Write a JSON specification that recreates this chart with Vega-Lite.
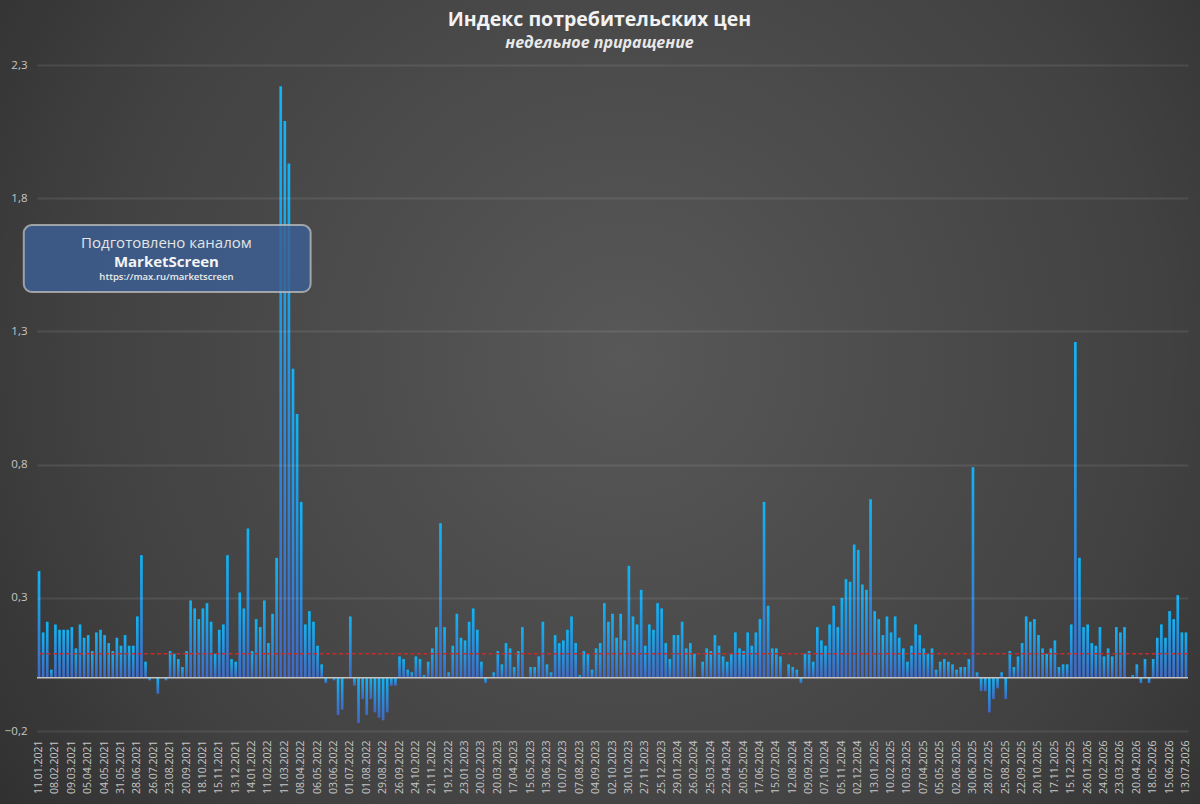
{
  "$schema": "https://vega.github.io/schema/vega-lite/v6.json",
  "width": 1151,
  "height": 666,
  "autosize": {"type": "none"},
  "padding": {"left": 37, "top": 65, "right": 12, "bottom": 73},
  "background": "#2b2b2b",
  "title": {
    "text": "Индекс потребительских цен",
    "subtitle": "недельное приращение",
    "anchor": "middle",
    "frame": "group",
    "dx": -13,
    "offset": -52,
    "color": "#f2f2f2",
    "font": "Open Sans",
    "fontSize": 19.5,
    "fontWeight": "bold",
    "subtitleColor": "#e8e8e8",
    "subtitleFont": "Open Sans",
    "subtitleFontSize": 16,
    "subtitleFontStyle": "italic",
    "subtitleFontWeight": "bold",
    "subtitlePadding": 4
  },
  "config": {
    "view": {"stroke": null},
    "axis": {"labelFont": "Open Sans", "labelColor": "#c6c6c6", "domain": false, "ticks": false}
  },
  "datasets": {
    "cpi": [
      {"d":"11.01.2021","v":0.40},{"d":"18.01.2021","v":0.17},{"d":"25.01.2021","v":0.21},{"d":"01.02.2021","v":0.03},
      {"d":"08.02.2021","v":0.20},{"d":"15.02.2021","v":0.18},{"d":"24.02.2021","v":0.18},{"d":"01.03.2021","v":0.18},
      {"d":"09.03.2021","v":0.19},{"d":"15.03.2021","v":0.11},{"d":"22.03.2021","v":0.20},{"d":"29.03.2021","v":0.15},
      {"d":"05.04.2021","v":0.16},{"d":"12.04.2021","v":0.10},{"d":"19.04.2021","v":0.17},{"d":"26.04.2021","v":0.18},
      {"d":"04.05.2021","v":0.16},{"d":"11.05.2021","v":0.13},{"d":"17.05.2021","v":0.10},{"d":"24.05.2021","v":0.15},
      {"d":"31.05.2021","v":0.12},{"d":"07.06.2021","v":0.16},{"d":"15.06.2021","v":0.12},{"d":"21.06.2021","v":0.12},
      {"d":"28.06.2021","v":0.23},{"d":"05.07.2021","v":0.46},{"d":"12.07.2021","v":0.06},{"d":"19.07.2021","v":-0.01},
      {"d":"26.07.2021","v":0.00},{"d":"02.08.2021","v":-0.06},{"d":"09.08.2021","v":0.00},{"d":"16.08.2021","v":-0.01},
      {"d":"23.08.2021","v":0.10},{"d":"30.08.2021","v":0.09},{"d":"06.09.2021","v":0.07},{"d":"13.09.2021","v":0.04},
      {"d":"20.09.2021","v":0.10},{"d":"27.09.2021","v":0.29},{"d":"04.10.2021","v":0.26},{"d":"11.10.2021","v":0.22},
      {"d":"18.10.2021","v":0.26},{"d":"25.10.2021","v":0.28},{"d":"01.11.2021","v":0.21},{"d":"08.11.2021","v":0.09},
      {"d":"15.11.2021","v":0.18},{"d":"22.11.2021","v":0.20},{"d":"29.11.2021","v":0.46},{"d":"06.12.2021","v":0.07},
      {"d":"13.12.2021","v":0.06},{"d":"20.12.2021","v":0.32},{"d":"27.12.2021","v":0.26},{"d":"10.01.2022","v":0.56},
      {"d":"14.01.2022","v":0.10},{"d":"21.01.2022","v":0.22},{"d":"28.01.2022","v":0.19},{"d":"04.02.2022","v":0.29},
      {"d":"11.02.2022","v":0.13},{"d":"18.02.2022","v":0.24},{"d":"25.02.2022","v":0.45},{"d":"04.03.2022","v":2.22},
      {"d":"11.03.2022","v":2.09},{"d":"18.03.2022","v":1.93},{"d":"25.03.2022","v":1.16},{"d":"01.04.2022","v":0.99},
      {"d":"08.04.2022","v":0.66},{"d":"15.04.2022","v":0.20},{"d":"22.04.2022","v":0.25},{"d":"29.04.2022","v":0.21},
      {"d":"06.05.2022","v":0.12},{"d":"13.05.2022","v":0.05},{"d":"20.05.2022","v":-0.02},{"d":"27.05.2022","v":0.00},
      {"d":"03.06.2022","v":-0.01},{"d":"10.06.2022","v":-0.14},{"d":"17.06.2022","v":-0.12},{"d":"24.06.2022","v":0.00},
      {"d":"01.07.2022","v":0.23},{"d":"08.07.2022","v":-0.03},{"d":"15.07.2022","v":-0.17},{"d":"25.07.2022","v":-0.08},
      {"d":"01.08.2022","v":-0.14},{"d":"08.08.2022","v":-0.08},{"d":"15.08.2022","v":-0.13},{"d":"22.08.2022","v":-0.15},
      {"d":"29.08.2022","v":-0.16},{"d":"05.09.2022","v":-0.13},{"d":"12.09.2022","v":-0.03},{"d":"19.09.2022","v":-0.03},
      {"d":"26.09.2022","v":0.08},{"d":"03.10.2022","v":0.07},{"d":"10.10.2022","v":0.03},{"d":"17.10.2022","v":0.02},
      {"d":"24.10.2022","v":0.08},{"d":"31.10.2022","v":0.07},{"d":"07.11.2022","v":0.01},{"d":"14.11.2022","v":0.06},
      {"d":"21.11.2022","v":0.11},{"d":"28.11.2022","v":0.19},{"d":"05.12.2022","v":0.58},{"d":"12.12.2022","v":0.19},
      {"d":"19.12.2022","v":0.02},{"d":"26.12.2022","v":0.12},{"d":"09.01.2023","v":0.24},{"d":"16.01.2023","v":0.15},
      {"d":"23.01.2023","v":0.14},{"d":"30.01.2023","v":0.21},{"d":"06.02.2023","v":0.26},{"d":"13.02.2023","v":0.18},
      {"d":"20.02.2023","v":0.06},{"d":"27.02.2023","v":-0.02},{"d":"06.03.2023","v":0.00},{"d":"13.03.2023","v":0.02},
      {"d":"20.03.2023","v":0.10},{"d":"27.03.2023","v":0.05},{"d":"03.04.2023","v":0.13},{"d":"10.04.2023","v":0.11},
      {"d":"17.04.2023","v":0.04},{"d":"24.04.2023","v":0.10},{"d":"02.05.2023","v":0.19},{"d":"10.05.2023","v":0.00},
      {"d":"15.05.2023","v":0.04},{"d":"22.05.2023","v":0.04},{"d":"29.05.2023","v":0.08},{"d":"05.06.2023","v":0.21},
      {"d":"13.06.2023","v":0.05},{"d":"19.06.2023","v":0.02},{"d":"26.06.2023","v":0.16},{"d":"03.07.2023","v":0.13},
      {"d":"10.07.2023","v":0.14},{"d":"17.07.2023","v":0.18},{"d":"24.07.2023","v":0.23},{"d":"31.07.2023","v":0.13},
      {"d":"07.08.2023","v":0.01},{"d":"14.08.2023","v":0.10},{"d":"21.08.2023","v":0.09},{"d":"28.08.2023","v":0.03},
      {"d":"04.09.2023","v":0.11},{"d":"11.09.2023","v":0.13},{"d":"18.09.2023","v":0.28},{"d":"25.09.2023","v":0.21},
      {"d":"02.10.2023","v":0.24},{"d":"09.10.2023","v":0.15},{"d":"16.10.2023","v":0.24},{"d":"23.10.2023","v":0.14},
      {"d":"30.10.2023","v":0.42},{"d":"06.11.2023","v":0.23},{"d":"13.11.2023","v":0.20},{"d":"20.11.2023","v":0.33},
      {"d":"27.11.2023","v":0.12},{"d":"04.12.2023","v":0.20},{"d":"11.12.2023","v":0.18},{"d":"18.12.2023","v":0.28},
      {"d":"25.12.2023","v":0.26},{"d":"09.01.2024","v":0.13},{"d":"15.01.2024","v":0.07},{"d":"22.01.2024","v":0.16},
      {"d":"29.01.2024","v":0.16},{"d":"05.02.2024","v":0.21},{"d":"12.02.2024","v":0.11},{"d":"19.02.2024","v":0.13},
      {"d":"26.02.2024","v":0.09},{"d":"04.03.2024","v":0.00},{"d":"11.03.2024","v":0.06},{"d":"18.03.2024","v":0.11},
      {"d":"25.03.2024","v":0.10},{"d":"01.04.2024","v":0.16},{"d":"08.04.2024","v":0.12},{"d":"15.04.2024","v":0.08},
      {"d":"22.04.2024","v":0.06},{"d":"29.04.2024","v":0.09},{"d":"06.05.2024","v":0.17},{"d":"13.05.2024","v":0.11},
      {"d":"20.05.2024","v":0.10},{"d":"27.05.2024","v":0.17},{"d":"03.06.2024","v":0.12},{"d":"10.06.2024","v":0.17},
      {"d":"17.06.2024","v":0.22},{"d":"24.06.2024","v":0.66},{"d":"01.07.2024","v":0.27},{"d":"08.07.2024","v":0.11},
      {"d":"15.07.2024","v":0.11},{"d":"22.07.2024","v":0.08},{"d":"29.07.2024","v":0.00},{"d":"05.08.2024","v":0.05},
      {"d":"12.08.2024","v":0.04},{"d":"19.08.2024","v":0.03},{"d":"26.08.2024","v":-0.02},{"d":"02.09.2024","v":0.09},
      {"d":"09.09.2024","v":0.10},{"d":"16.09.2024","v":0.06},{"d":"23.09.2024","v":0.19},{"d":"30.09.2024","v":0.14},
      {"d":"07.10.2024","v":0.12},{"d":"14.10.2024","v":0.20},{"d":"21.10.2024","v":0.27},{"d":"28.10.2024","v":0.19},
      {"d":"05.11.2024","v":0.30},{"d":"11.11.2024","v":0.37},{"d":"18.11.2024","v":0.36},{"d":"25.11.2024","v":0.50},
      {"d":"02.12.2024","v":0.48},{"d":"09.12.2024","v":0.35},{"d":"16.12.2024","v":0.33},{"d":"23.12.2024","v":0.67},
      {"d":"13.01.2025","v":0.25},{"d":"20.01.2025","v":0.22},{"d":"27.01.2025","v":0.16},{"d":"03.02.2025","v":0.23},
      {"d":"10.02.2025","v":0.17},{"d":"17.02.2025","v":0.23},{"d":"24.02.2025","v":0.15},{"d":"03.03.2025","v":0.11},
      {"d":"10.03.2025","v":0.06},{"d":"17.03.2025","v":0.12},{"d":"24.03.2025","v":0.20},{"d":"31.03.2025","v":0.16},
      {"d":"07.04.2025","v":0.11},{"d":"14.04.2025","v":0.09},{"d":"21.04.2025","v":0.11},{"d":"28.04.2025","v":0.03},
      {"d":"05.05.2025","v":0.06},{"d":"12.05.2025","v":0.07},{"d":"19.05.2025","v":0.06},{"d":"26.05.2025","v":0.05},
      {"d":"02.06.2025","v":0.03},{"d":"09.06.2025","v":0.04},{"d":"16.06.2025","v":0.04},{"d":"23.06.2025","v":0.07},
      {"d":"30.06.2025","v":0.79},{"d":"07.07.2025","v":0.02},{"d":"14.07.2025","v":-0.05},{"d":"21.07.2025","v":-0.05},
      {"d":"28.07.2025","v":-0.13},{"d":"04.08.2025","v":-0.08},{"d":"11.08.2025","v":-0.04},{"d":"18.08.2025","v":0.02},
      {"d":"25.08.2025","v":-0.08},{"d":"01.09.2025","v":0.10},{"d":"08.09.2025","v":0.04},{"d":"15.09.2025","v":0.08},
      {"d":"22.09.2025","v":0.13},{"d":"29.09.2025","v":0.23},{"d":"06.10.2025","v":0.21},{"d":"13.10.2025","v":0.22},
      {"d":"20.10.2025","v":0.16},{"d":"27.10.2025","v":0.11},{"d":"03.11.2025","v":0.09},{"d":"10.11.2025","v":0.11},
      {"d":"17.11.2025","v":0.14},{"d":"24.11.2025","v":0.04},{"d":"01.12.2025","v":0.05},{"d":"08.12.2025","v":0.05},
      {"d":"15.12.2025","v":0.20},{"d":"22.12.2025","v":1.26},{"d":"29.12.2025","v":0.45},{"d":"19.01.2026","v":0.19},
      {"d":"26.01.2026","v":0.20},{"d":"02.02.2026","v":0.13},{"d":"09.02.2026","v":0.12},{"d":"16.02.2026","v":0.19},
      {"d":"24.02.2026","v":0.08},{"d":"02.03.2026","v":0.11},{"d":"09.03.2026","v":0.08},{"d":"16.03.2026","v":0.19},
      {"d":"23.03.2026","v":0.17},{"d":"30.03.2026","v":0.19},{"d":"06.04.2026","v":0.00},{"d":"13.04.2026","v":0.01},
      {"d":"20.04.2026","v":0.05},{"d":"27.04.2026","v":-0.02},{"d":"04.05.2026","v":0.07},{"d":"12.05.2026","v":-0.02},
      {"d":"18.05.2026","v":0.07},{"d":"25.05.2026","v":0.15},{"d":"01.06.2026","v":0.20},{"d":"08.06.2026","v":0.15},
      {"d":"15.06.2026","v":0.25},{"d":"22.06.2026","v":0.22},{"d":"29.06.2026","v":0.31},{"d":"06.07.2026","v":0.17},
      {"d":"13.07.2026","v":0.17}
    ]
  },
  "layer": [
    {
      "data": {"values": [{}]},
      "mark": {
        "type": "rect",
        "color": {
          "gradient": "radial",
          "x1": 0.52, "y1": 0.46, "r1": 0,
          "x2": 0.52, "y2": 0.46, "r2": 0.75,
          "stops": [
            {"offset": 0, "color": "#585858"},
            {"offset": 0.6, "color": "#414141"},
            {"offset": 1, "color": "#272727"}
          ]
        }
      },
      "encoding": {
        "x": {"datum": -10, "type": "quantitative", "scale": {"domain": [-0.5, 280.5], "nice": false, "zero": false}, "axis": null},
        "x2": {"datum": 284},
        "y": {"datum": -0.5, "type": "quantitative", "scale": {"domain": [-0.2, 2.3], "nice": false}, "title": null},
        "y2": {"datum": 2.545}
      }
    },
    {
      "data": {"name": "cpi"},
      "mark": {
        "type": "bar",
        "color": {
          "gradient": "linear",
          "x1": 0, "y1": 0, "x2": 0, "y2": 1,
          "stops": [
            {"offset": 0, "color": "#10b4f6"},
            {"offset": 1, "color": "#4069c4"}
          ]
        }
      },
      "encoding": {
        "x": {
          "field": "d",
          "type": "ordinal",
          "sort": null,
          "scale": {"paddingInner": 0.35, "paddingOuter": 0.175},
          "axis": {
            "title": null,
            "zindex": 1,
            "labelAngle": -90,
            "labelFontSize": 10.5,
            "labelPadding": 9,
            "labelOverlap": false,
            "labelBound": false,
            "values": ["11.01.2021","08.02.2021","09.03.2021","05.04.2021","04.05.2021","31.05.2021","28.06.2021","26.07.2021","23.08.2021","20.09.2021","18.10.2021","15.11.2021","13.12.2021","14.01.2022","11.02.2022","11.03.2022","08.04.2022","06.05.2022","03.06.2022","01.07.2022","01.08.2022","29.08.2022","26.09.2022","24.10.2022","21.11.2022","19.12.2022","23.01.2023","20.02.2023","20.03.2023","17.04.2023","15.05.2023","13.06.2023","10.07.2023","07.08.2023","04.09.2023","02.10.2023","30.10.2023","27.11.2023","25.12.2023","29.01.2024","26.02.2024","25.03.2024","22.04.2024","20.05.2024","17.06.2024","15.07.2024","12.08.2024","09.09.2024","07.10.2024","05.11.2024","02.12.2024","13.01.2025","10.02.2025","10.03.2025","07.04.2025","05.05.2025","02.06.2025","30.06.2025","28.07.2025","25.08.2025","22.09.2025","20.10.2025","17.11.2025","15.12.2025","26.01.2026","24.02.2026","23.03.2026","20.04.2026","18.05.2026","15.06.2026","13.07.2026"]
          }
        },
        "y": {
          "field": "v",
          "type": "quantitative",
          "scale": {"domain": [-0.2, 2.3], "nice": false},
          "title": null,
          "axis": {
            "zindex": 1,
            "values": [-0.2, 0.3, 0.8, 1.3, 1.8, 2.3],
            "labelExpr": "replace(format(datum.value, '.1f'), '.', ',')",
            "labelFontSize": 11.5,
            "labelPadding": 10,
            "grid": true,
            "gridColor": "#ffffff",
            "gridOpacity": 0.09,
            "gridWidth": 1.8
          }
        },
        "tooltip": [{"field": "d", "title": "Дата"}, {"field": "v", "title": "Прирост, %"}]
      }
    },
    {
      "data": {"values": [{}]},
      "mark": {"type": "rule", "color": "#c4c4c4", "strokeWidth": 1.6},
      "encoding": {
        "y": {"datum": 0, "type": "quantitative", "scale": {"domain": [-0.2, 2.3], "nice": false}, "title": null}
      }
    },
    {
      "data": {"values": [{}]},
      "mark": {"type": "rule", "color": "#c62a2a", "strokeWidth": 1.5, "strokeDash": [4, 2.5]},
      "encoding": {
        "y": {"datum": 0.09, "type": "quantitative", "scale": {"domain": [-0.2, 2.3], "nice": false}, "title": null}
      }
    },
    {
      "data": {"values": [{}]},
      "mark": {"type": "rect", "cornerRadius": 8, "fill": "#3a5f94", "fillOpacity": 0.82, "stroke": "#c0c0c0", "strokeOpacity": 0.75, "strokeWidth": 2},
      "encoding": {
        "x": {"datum": -3.73, "type": "quantitative", "scale": {"domain": [-0.5, 280.5], "nice": false, "zero": false}, "axis": null},
        "x2": {"datum": 66.3},
        "y": {"datum": 1.699, "type": "quantitative", "scale": {"domain": [-0.2, 2.3], "nice": false}, "title": null},
        "y2": {"datum": 1.448}
      }
    },
    {
      "data": {"values": [{}]},
      "mark": {"type": "text", "text": "Подготовлено каналом", "font": "Open Sans", "fontSize": 15, "color": "#e4e4e4", "align": "center", "baseline": "middle"},
      "encoding": {
        "x": {"datum": 31.1, "type": "quantitative", "scale": {"domain": [-0.5, 280.5], "nice": false, "zero": false}, "axis": null},
        "y": {"datum": 1.631, "type": "quantitative", "scale": {"domain": [-0.2, 2.3], "nice": false}, "title": null}
      }
    },
    {
      "data": {"values": [{}]},
      "mark": {"type": "text", "text": "MarketScreen", "font": "Open Sans", "fontSize": 15, "fontWeight": "bold", "color": "#f4f4f4", "align": "center", "baseline": "middle"},
      "encoding": {
        "x": {"datum": 31.1, "type": "quantitative", "scale": {"domain": [-0.5, 280.5], "nice": false, "zero": false}, "axis": null},
        "y": {"datum": 1.562, "type": "quantitative", "scale": {"domain": [-0.2, 2.3], "nice": false}, "title": null}
      }
    },
    {
      "data": {"values": [{}]},
      "mark": {"type": "text", "text": "https://max.ru/marketscreen", "font": "Open Sans", "fontSize": 9.5, "fontWeight": 600, "color": "#ececec", "align": "center", "baseline": "middle"},
      "encoding": {
        "x": {"datum": 31.1, "type": "quantitative", "scale": {"domain": [-0.5, 280.5], "nice": false, "zero": false}, "axis": null},
        "y": {"datum": 1.505, "type": "quantitative", "scale": {"domain": [-0.2, 2.3], "nice": false}, "title": null}
      }
    }
  ],
  "resolve": {"scale": {"x": "independent"}}
}
